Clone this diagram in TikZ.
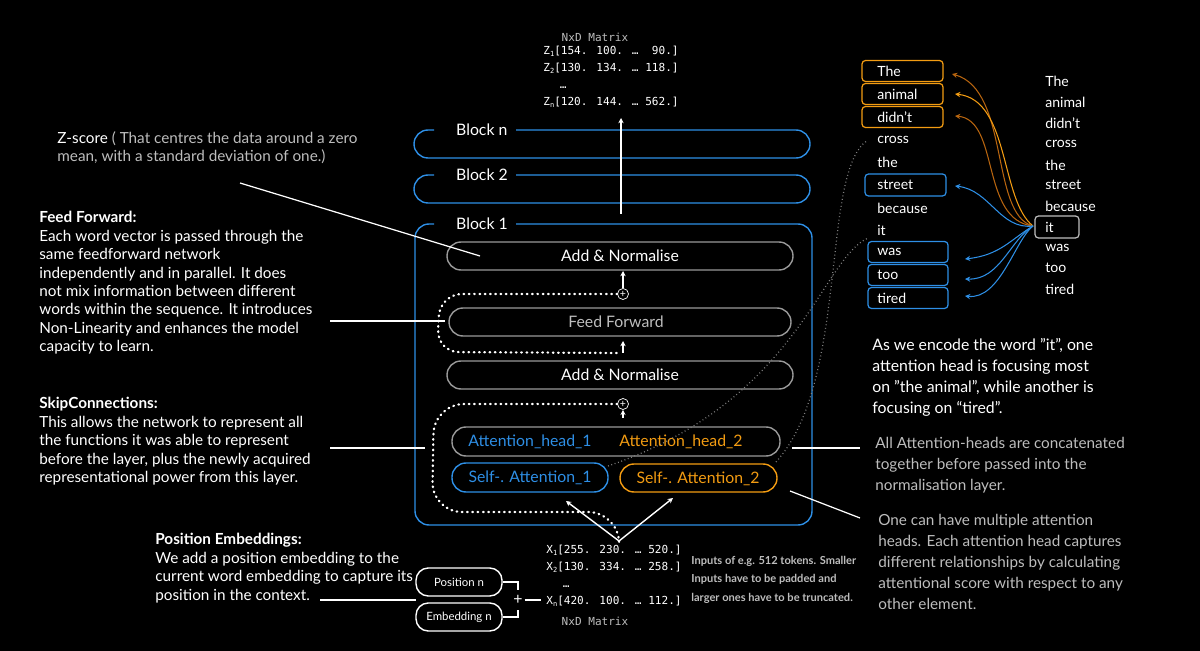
\documentclass[tikz,border=0pt]{standalone}
\usepackage{fontspec}
\setmainfont{Lato}
\newfontfamily\monof{DejaVu Sans Mono}
\usetikzlibrary{arrows.meta}
\usetikzlibrary{calc}
\definecolor{bblue}{HTML}{2E8FE6}
\definecolor{borange}{HTML}{F39C12}
\definecolor{dorange}{HTML}{B8650F}
\definecolor{tgray}{HTML}{BDBDBD}

\tikzset{
  pill/.style={draw=gray!80, line width=0.8pt, rounded corners=14*0.02cm},
  boxtext/.style={font=\fontsize{9}{10}\selectfont, text=white},
  note/.style={font=\fontsize{8.7}{10.5}\selectfont, text=white, align=left, anchor=north west, inner sep=0pt},
  gnote/.style={note, text=tgray, font=\fontsize{8.7}{11.9}\selectfont},
  mat/.style={font=\monof\fontsize{6.3}{9.6}\selectfont, text=white, align=left, inner sep=0pt},
  word/.style={font=\fontsize{8}{10}\selectfont, text=white, anchor=west, inner sep=0pt},
  wbox/.style={draw, line width=0.7pt, rounded corners=2pt},
  pointer/.style={white, line width=0.7pt},
  skip/.style={white, line width=1.3pt, dash pattern=on 0.4pt off 2.6pt, line cap=round},
  up/.style={white, line width=0.8pt, -{Stealth[length=3pt,width=3pt]}},
  att/.style={line width=0.6pt, -{Stealth[length=3pt,width=3pt]}},
}
\newcommand\sub[1]{\raisebox{-0.3ex}{\fontsize{4}{4}\selectfont #1}}

\begin{document}
\begin{tikzpicture}[x=0.02cm, y=-0.02cm]
\fill[black] (0,0) rectangle (1200,651);
\useasboundingbox (0,0) rectangle (1200,651);

% output matrix
\node[mat, text=tgray] (outT) at (595,37) {NxD Matrix};
\node[mat, anchor=west] (outM) at (543,77) {Z\sub{1}[154. 100. … \ 90.]\\Z\sub{2}[130. 134. … 118.]\\\hspace*{1.5em}…\\Z\sub{n}[120. 144. … 562.]};

% blocks
\draw[bblue, line width=0.8pt, rounded corners=14*0.02cm]
   (434,130) -- (414,130) -- (414,158) -- (810,158) -- (810,130) -- (516,130)
   (434,175) -- (414,175) -- (414,203) -- (810,203) -- (810,175) -- (516,175)
   (434,224) -- (415,224) -- (415,525) -- (812,525) -- (812,224) -- (516,224);
\node[boxtext, anchor=west] (bn) at (450,130) {Block n};
\node[boxtext, anchor=west] (b2) at (450,175) {Block 2};
\node[boxtext, anchor=west] (b1) at (450,224) {Block 1};
\coordinate (topOut) at (621,118);
\draw[up] (621,214) -- (topOut);

% layers
\draw[pill] (447,242) rectangle (793,270);
\node[boxtext] (an1) at (620,256) {Add \& Normalise};
\draw[pill] (449,308) rectangle (791,336);
\node[boxtext, text=tgray] (ff) at (616,322) {Feed Forward};
\draw[pill] (447,361) rectangle (793,389);
\node[boxtext] (an2) at (620,375) {Add \& Normalise};
\draw[pill] (452,427) rectangle (780,456);
\node[boxtext, text=bblue] (ah1) at (530,442) {Attention\_head\_1};
\node[boxtext, text=borange] (ah2) at (681,442) {Attention\_head\_2};
\draw[pill, draw=bblue] (452,463) rectangle (608,492);
\node[boxtext, text=bblue] (sa1) at (530,478) {Self-. Attention\_1};
\draw[pill, draw=borange] (620,464) rectangle (777,492);
\node[boxtext, text=borange] (sa2) at (698,479) {Self-. Attention\_2};

% residual adds
\node[draw=white, circle, inner sep=0pt, minimum size=11*0.02cm, font=\fontsize{6}{6}\selectfont, text=white] (p1) at (623,294) {+};
\node[draw=white, circle, inner sep=0pt, minimum size=11*0.02cm, font=\fontsize{6}{6}\selectfont, text=white] (p2) at (623,404) {+};
\draw[up] (p1) -- (623,271);
\draw[up] (623,418) -- (p2);
\draw[up] (623,353) -- (623,341);
\draw[skip, rounded corners=22*0.02cm] (p1.west) -- (440,294) -- (437,352) -- (620,353);
\draw[skip, rounded corners=30*0.02cm] (p2.west) -- (434,404) -- (432,512) -- (618,512) -- (619,540);

% input matrix
\coordinate (inTop) at (619,541);
\draw[up] (inTop) -- (566,501);
\draw[up] (inTop) -- (673,498);
\node[mat, anchor=west] (inM) at (546,576) {X\sub{1}[255. 230. … 520.]\\X\sub{2}[130. 334. … 258.]\\\hspace*{1.5em}…\\X\sub{n}[420. 100. … 112.]};
\node[mat, text=tgray] (inT) at (595,621) {NxD Matrix};
\node[gnote, font=\fontsize{6.3}{10.4}\selectfont\bfseries] (inNote) at (691,556) {Inputs of e.g. 512 tokens. Smaller\\Inputs have to be padded and\\larger ones have to be truncated.};

\node[draw=white, line width=0.8pt, rounded corners=7pt, minimum width=86*0.02cm, minimum height=28*0.02cm, font=\fontsize{6.5}{8}\selectfont, text=white] (pos) at (459,582) {Position n};
\node[draw=white, line width=0.8pt, rounded corners=7pt, minimum width=86*0.02cm, minimum height=28*0.02cm, font=\fontsize{6.5}{8}\selectfont, text=white] (emb) at (459,617) {Embedding n};
\node[text=white, inner sep=1pt, font=\fontsize{9}{9}\selectfont] (plus) at (518,600) {+};
\draw[pointer] (pos.east) -| (518,590);
\draw[pointer] (emb.east) -| (518,610);
\draw[pointer] (plus.east) -- (541,600);

% left notes
\node[note] (zs) at (57,131) {Z-score {\color{tgray}( That centres the data around a zero}\\{\color{tgray}mean, with a standard deviation of one.)}};
\draw[pointer] (240,183) -- (480,256);
\node[note] (ffn) at (39,211) {\textbf{Feed Forward:}\\Each word vector is passed through the\\same feedforward network\\independently and in parallel. It does\\not mix information between different\\words within the sequence. It introduces\\Non-Linearity and enhances the model\\capacity to learn.};
\draw[pointer] (330,321) -- (445,321);
\node[note] (skn) at (39,397) {\textbf{SkipConnections:}\\This allows the network to represent all\\the functions it was able to represent\\before the layer, plus the newly acquired\\representational power from this layer.};
\draw[pointer] (330,448) -- (425,448);
\node[note] (pen) at (155,533) {\textbf{Position Embeddings:}\\We add a position embedding to the\\current word embedding to capture its\\position in the context.};
\coordinate (embIn) at (416,600);
\draw[pointer] (320,600) -- (embIn);

% right notes
\node[note, font=\fontsize{9}{11.9}\selectfont] (enc) at (872,338) {As we encode the word "it", one\\attention head is focusing most\\on "the animal", while another is\\focusing on “tired”.};
\node[gnote] (cat) at (875,437) {All Attention-heads are concatenated\\together before passed into the\\normalisation layer.};
\draw[pointer] (792,448) -- (860,448);
\node[gnote] (mul) at (878,514) {One can have multiple attention\\heads. Each attention head captures\\different relationships by calculating\\attentional score with respect to any\\other element.};
\draw[pointer] (790,491) -- (860,518);

% attention words
\foreach \w/\y/\n in {The/71/l1, animal/94/l2, didn’t/117/l3, cross/140/l4, the/162/l5, street/185/l6, because/208/l7, it/230/l8, was/252/l9, too/275/l10, tired/298/l11}
  \node[word] (\n) at (877,\y) {\w};
\foreach \w/\y/\n in {The/81/r1, animal/102/r2, didn’t/123/r3, cross/144/r4, the/165/r5, street/185/r6, because/206/r7, it/227/r8, was/248/r9, too/268/r10, tired/289/r11}
  \node[word] (\n) at (1045,\y) {\w};
\foreach \y in {71,94,117}
  \draw[wbox, borange] (862,\y-10.5) rectangle (943,\y+10.5);
\draw[wbox, bblue] (865,174) rectangle (946,196);
\foreach \y in {252,275,298}
  \draw[wbox, bblue] (868,\y-10.5) rectangle (948,\y+10.5);
\draw[wbox, tgray] (1035,216) rectangle (1079,238);

\coordinate (src) at (1033,226);
\draw[att, dorange] (src) .. controls (990,215) and (1010,90) .. (952,74);
\draw[att, borange] (src) .. controls (1000,200) and (1010,100) .. (955,94);
\draw[att, dorange] (src) .. controls (980,220) and (1000,120) .. (955,116);
\draw[att, bblue] (src) .. controls (1000,230) and (990,190) .. (955,186);
\draw[att, bblue] (src) .. controls (1010,240) and (1000,255) .. (965,259);
\draw[att, bblue] (src) .. controls (1010,240) and (1000,280) .. (965,279);
\draw[att, bblue] (src) .. controls (1015,240) and (1000,300) .. (965,296);

% dotted links to the sentence
\draw[gray, line width=0.7pt, dash pattern=on 0.5pt off 1.5pt] (776,462) .. controls (850,380) and (820,170) .. (868,140);
\draw[gray, line width=0.7pt, dash pattern=on 0.5pt off 1.5pt] (608,466) .. controls (800,400) and (820,260) .. (868,238);
\end{tikzpicture}
\end{document}
